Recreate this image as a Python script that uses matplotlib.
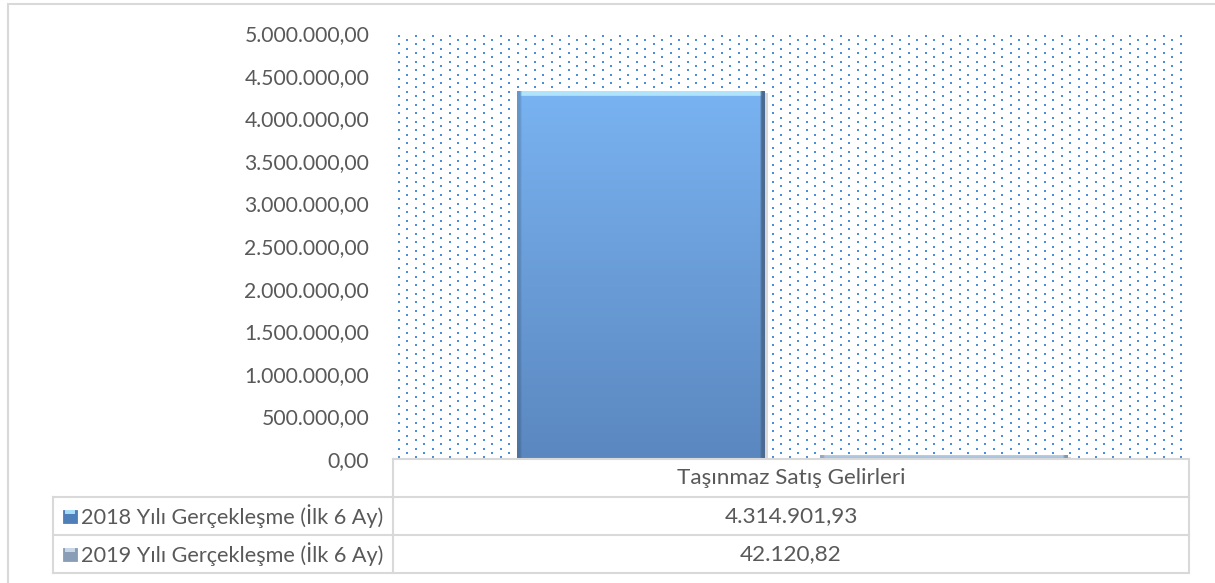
import numpy as np
import matplotlib.pyplot as plt
from matplotlib.patches import Rectangle
from matplotlib.colors import to_rgb
import matplotlib.patheffects as pe

plt.rcParams['font.family'] = ['Lato', 'DejaVu Sans']

category = "Taşınmaz Satış Gelirleri"
series_names = ["2018 Yılı Gerçekleşme (İlk 6 Ay)", "2019 Yılı Gerçekleşme (İlk 6 Ay)"]
values = [4314901.93, 42120.82]
yticks = [0, 500000, 1000000, 1500000, 2000000, 2500000, 3000000, 3500000, 4000000, 4500000, 5000000]

TXT = '#595959'
GRID = '#d9d9d9'
W, H = 1215, 583


def tr(v):
    s = f"{v:,.2f}"
    return s.replace(",", "X").replace(".", ",").replace("X", ".")


def bar_image(top, bottom, edge_dark, top_light, nrows=300, ncols=120):
    t = np.linspace(1, 0, nrows)[:, None]
    top, bottom = np.array(to_rgb(top)), np.array(to_rgb(bottom))
    img = bottom + (top - bottom) * t[..., None]
    img = np.repeat(img, ncols, axis=1)
    img[:, :2] = img[:, :2] * 0.85
    img[:, -2:] = np.array(to_rgb(edge_dark))
    img[:4, 2:-2] = np.array(to_rgb(top_light))
    return img


fig = plt.figure(figsize=(W / 100, H / 100), dpi=100)

# outer chart frame
fig.add_artist(Rectangle((8 / W, -0.02), 1.1, (H - 4) / H + 0.02, transform=fig.transFigure,
                         fill=False, edgecolor=GRID, lw=1.5))

ax = fig.add_axes([397 / W, (H - 459) / H, (1189 - 397) / W, (459 - 33) / H])
ax.set_xlim(-0.5, 0.5)
ax.set_ylim(0, 5000000)

# dotted background pattern
rows = np.arange(0.004, 1.0, 4.3 / 426)
xs, ys = [], []
for i, yy in enumerate(rows):
    start = 0.002 if i % 2 == 0 else 0.002 + 8.5 / 792
    cols = np.arange(start, 1.0, 17 / 792)
    xs.extend(cols)
    ys.extend([yy] * len(cols))
ax.scatter(xs, ys, s=3.6, marker='s', color='#4A8FD8', linewidths=0,
           transform=ax.transAxes, zorder=0, clip_on=True)

width = 0.312
offsets = [-0.193, 0.19]
styles = [
    dict(top='#79b3f1', bottom='#5b87bf', edge_dark='#4a6a92', top_light='#b0e4fb'),
    dict(top='#b9cfe8', bottom='#a3bad6', edge_dark='#8197b1', top_light='#d6e6f5'),
]
bars = ax.bar(offsets, values, width=width, facecolor='#ffffff', edgecolor='none', zorder=1)
for p, st in zip(bars, styles):
    x0, w, h = p.get_x(), p.get_width(), p.get_height()
    ax.imshow(bar_image(**st), extent=[x0, x0 + w, 0, h], aspect='auto', zorder=2,
              interpolation='bilinear')
    p.set_path_effects([pe.SimplePatchShadow(offset=(3, -1), shadow_rgbFace='#7f7f7f', alpha=0.3)])
ax.set_xlim(-0.5, 0.5)
ax.set_ylim(0, 5000000)

ax.set_yticks(yticks)
ax.set_yticklabels([tr(v) for v in yticks], fontsize=15.2, color=TXT)
ax.tick_params(axis='y', length=0, pad=20)
ax.set_xticks([])
for s in ax.spines.values():
    s.set_visible(False)

# data table below the plot
tb = fig.add_axes([0, 0, 1, 1], zorder=5)
tb.set_xlim(0, W)
tb.set_ylim(H, 0)
tb.axis('off')
tb.patch.set_alpha(0)
rows_y = [459, 497, 535, 573]
xl, xm, xr = 53, 393, 1189
tb.plot([xm, xr], [rows_y[0], rows_y[0]], color=GRID, lw=1.5)
for yy in rows_y[1:]:
    tb.plot([xl, xr], [yy, yy], color=GRID, lw=1.5)
tb.plot([xl, xl], [rows_y[1], rows_y[3]], color=GRID, lw=1.5)
tb.plot([xm, xm], [rows_y[0], rows_y[3]], color=GRID, lw=1.5)
tb.plot([xr, xr], [rows_y[0], rows_y[3]], color=GRID, lw=1.5)

xc = (xm + xr) / 2
tb.text(xc, (rows_y[0] + rows_y[1]) / 2, category, ha='center', va='center', fontsize=16.2, color=TXT)
key_cols = [('#a6dcf8', '#4f7fb8'), ('#c9d6e6', '#8a9db6')]
for i, (name, v) in enumerate(zip(series_names, values)):
    yc = (rows_y[i + 1] + rows_y[i + 2]) / 2
    tb.text(xc, yc, tr(v), ha='center', va='center', fontsize=16.2, color=TXT)
    tb.text(81, yc, name, ha='left', va='center', fontsize=15.6, color=TXT)
    light, dark = key_cols[i]
    tb.add_patch(Rectangle((63, yc - 6.5), 14, 13, facecolor=dark, edgecolor=dark, lw=0.6))
    tb.add_patch(Rectangle((65, yc - 6.5), 10, 4, facecolor=light, edgecolor='none'))

fig.savefig('out.png', dpi=100)
